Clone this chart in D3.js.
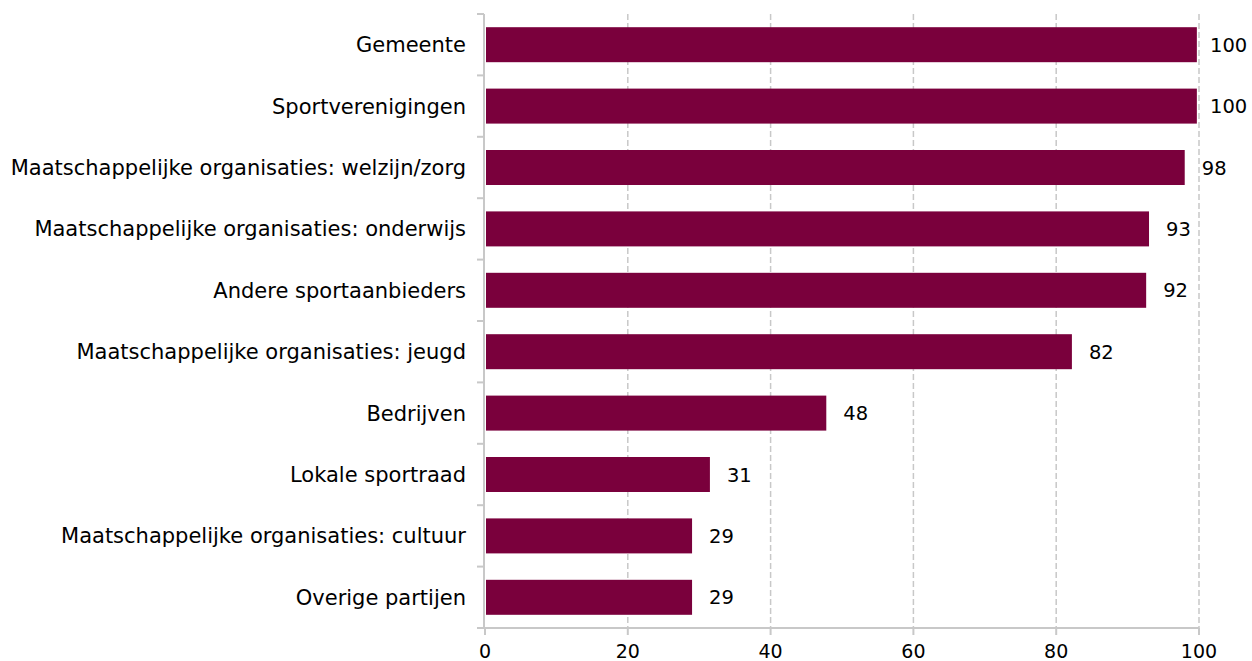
<!DOCTYPE html>
<html lang="nl">
<head>
<meta charset="utf-8">
<title>Partners</title>
<script src="https://cdn.jsdelivr.net/npm/d3@7"></script>
<style>
  body { margin: 0; background: #fff; }
  text { font-family: "DejaVu Sans", sans-serif; }
</style>
</head>
<body>
<script>
var categories = ["Gemeente", "Sportverenigingen", "Maatschappelijke organisaties: welzijn/zorg",
  "Maatschappelijke organisaties: onderwijs", "Andere sportaanbieders",
  "Maatschappelijke organisaties: jeugd", "Bedrijven", "Lokale sportraad",
  "Maatschappelijke organisaties: cultuur", "Overige partijen"]
var values = [99.7, 99.7, 98, 93, 92.6, 82.2, 47.8, 31.5, 29, 29]
var labels = [100, 100, 98, 93, 92, 82, 48, 31, 29, 29]
var xTicks = [0, 20, 40, 60, 80, 100]

var w = 1252, h = 661
var mLeft = 485, mRight = 1199, mTop = 14, mBottom = 628

var svg = d3.select("body").append("svg").attr("width", w).attr("height", h)

var xscale = d3.scaleLinear().domain([0, 100]).range([mLeft, mRight])
var yscale = d3.scaleBand().domain(categories).range([mTop, mBottom]).paddingInner(0.43).paddingOuter(0.215)

// grid lines
svg.selectAll(".grid")
  .data(xTicks.slice(1))
  .enter().append("line")
  .attr("x1", function(d) { return xscale(d) })
  .attr("x2", function(d) { return xscale(d) })
  .attr("y1", mTop).attr("y2", mBottom)
  .attr("stroke", "#c8c8c8").attr("stroke-width", 1.5)
  .attr("stroke-dasharray", "6,3")

// bars
svg.selectAll("rect")
  .data(values)
  .enter().append("rect")
  .attr("x", xscale(0) + 1)
  .attr("y", function(d, i) { return yscale(categories[i]) })
  .attr("width", function(d) { return xscale(d) - xscale(0) - 1 })
  .attr("height", yscale.bandwidth())
  .attr("fill", "#7a003c")

// value labels
svg.selectAll(".val")
  .data(labels)
  .enter().append("text")
  .attr("class", "val")
  .attr("x", function(d, i) { return Math.min(xscale(values[i]) + 17, 1210) })
  .attr("y", function(d, i) { return yscale(categories[i]) + yscale.bandwidth() / 2 })
  .attr("dy", "0.36em")
  .attr("font-size", "19.5px")
  .attr("fill", "#000")
  .text(function(d) { return d })

// y axis
var yaxis = svg.append("g").attr("transform", "translate(" + (mLeft - 1) + ",0)")
yaxis.append("line").attr("x1", 0).attr("x2", 0).attr("y1", mTop).attr("y2", mBottom).attr("stroke", "#c8c8c8").attr("stroke-width", 2)
var bounds = d3.range(categories.length + 1).map(function(i) { return mTop + i * yscale.step() })
yaxis.selectAll(".tk").data(bounds).enter().append("line")
  .attr("x1", -7).attr("x2", 0)
  .attr("y1", function(d) { return d }).attr("y2", function(d) { return d })
  .attr("stroke", "#c8c8c8").attr("stroke-width", 2)
svg.selectAll(".cat")
  .data(categories)
  .enter().append("text")
  .attr("class", "cat")
  .attr("x", mLeft - 19)
  .attr("y", function(d) { return yscale(d) + yscale.bandwidth() / 2 })
  .attr("dy", "0.36em")
  .attr("text-anchor", "end")
  .attr("font-size", "21px")
  .attr("fill", "#000")
  .text(function(d) { return d })

// x axis
var xaxis = svg.append("g").attr("transform", "translate(0," + mBottom + ")")
xaxis.append("line").attr("x1", mLeft - 1).attr("x2", mRight).attr("y1", 0).attr("y2", 0).attr("stroke", "#c8c8c8").attr("stroke-width", 2)
xaxis.selectAll(".xt").data(xTicks).enter().append("line")
  .attr("x1", function(d) { return xscale(d) }).attr("x2", function(d) { return xscale(d) })
  .attr("y1", 0).attr("y2", 7)
  .attr("stroke", "#c8c8c8").attr("stroke-width", 2)
xaxis.selectAll(".xl").data(xTicks).enter().append("text")
  .attr("x", function(d) { return xscale(d) })
  .attr("y", 30)
  .attr("text-anchor", "middle")
  .attr("font-size", "19px")
  .attr("fill", "#000")
  .text(function(d) { return d })
</script>
</body>
</html>
